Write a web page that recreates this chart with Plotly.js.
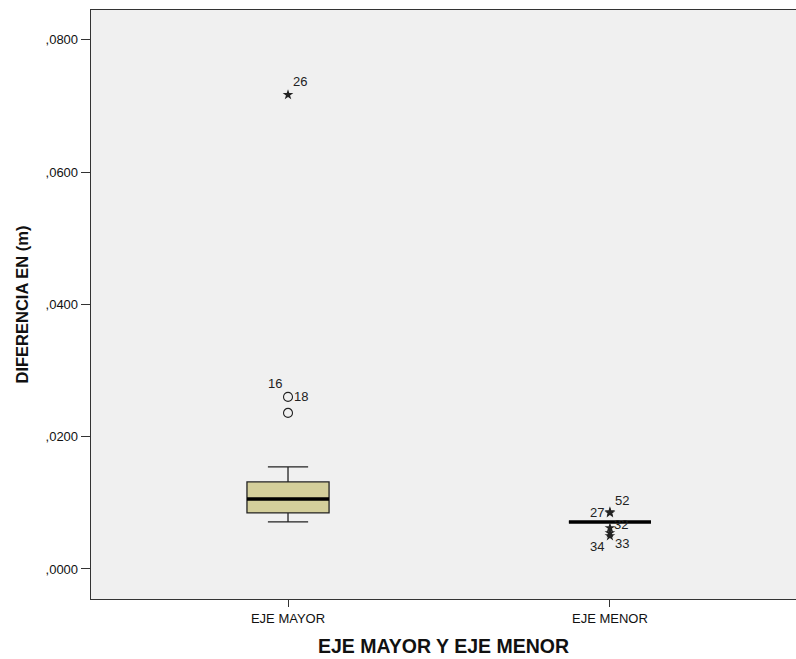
<!DOCTYPE html>
<html>
<head>
<meta charset="utf-8">
<script src="https://cdn.plot.ly/plotly-3.0.1.min.js"></script>
<style>html,body{margin:0;padding:0;background:#fff;}#chart{width:796px;height:659px;}</style>
</head>
<body>
<div id="chart"></div>
<script>
// Categories
const categories = ["EJE MAYOR", "EJE MENOR"];
// Box statistics per category
const q1Values = [0.00847, 0.00711];
const medianValues = [0.01059, 0.00711];
const q3Values = [0.01316, 0.00711];
const lowerWhisker = [0.00711, 0.00711];
const upperWhisker = [0.01543, 0.00711];
// Outliers (circles)
const outlierCat = ["EJE MAYOR", "EJE MAYOR"];
const outlierVal = [0.02601, 0.02359];
const outlierLab = ["18", "16"];
// Extremes (stars)
const extremeCat = ["EJE MAYOR", "EJE MENOR", "EJE MENOR", "EJE MENOR", "EJE MENOR", "EJE MENOR"];
const extremeVal = [0.07168, 0.00847, 0.00862, 0.00620, 0.00545, 0.00500];
const extremeLab = ["26", "27", "52", "32", "33", "34"];
// Y tick labels
const yTickVals = [0.0, 0.02, 0.04, 0.06, 0.08];
const yTickText = [",0000", ",0200", ",0400", ",0600", ",0800"];

const font = "Liberation Sans, Arial, sans-serif";

const boxTrace = {
  type: "box", x: categories, q1: q1Values, median: medianValues, q3: q3Values,
  lowerfence: lowerWhisker, upperfence: upperWhisker,
  width: 0.255, whiskerwidth: 0.49, boxpoints: false,
  fillcolor: "#d4cf9b", line: {color: "#222222", width: 1.3},
  hoverinfo: "skip", showlegend: false
};
const medianTrace = {
  type: "box", x: categories, q1: medianValues, median: medianValues, q3: medianValues,
  lowerfence: medianValues, upperfence: medianValues,
  width: 0.255, whiskerwidth: 0, boxpoints: false,
  fillcolor: "rgba(0,0,0,0)", line: {color: "#000000", width: 3.5},
  hoverinfo: "skip", showlegend: false
};
const outlierTrace = {
  type: "scatter", mode: "markers", x: outlierCat, y: outlierVal,
  marker: {symbol: "circle-open", size: 9, color: "#222222", line: {width: 1.1, color: "#222222"}},
  hoverinfo: "skip", showlegend: false
};
const extremeTrace = {
  type: "scatter", mode: "markers", x: extremeCat, y: extremeVal,
  marker: {symbol: "star", size: 8, color: "#222222", line: {width: 0}},
  hoverinfo: "skip", showlegend: false
};

const shifts = {
  "18": [13, 0], "16": [-13, 29], "26": [12, 13], "27": [-13, 0],
  "52": [12, 11], "32": [11, 3], "33": [12, -11], "34": [-13, -11]
};
const annotations = [];
function addLabels(cats, vals, labs) {
  for (let i = 0; i < cats.length; i++) {
    const s = shifts[labs[i]] || [12, 0];
    annotations.push({
      x: cats[i], y: vals[i], xref: "x", yref: "y", text: labs[i], showarrow: false,
      xshift: s[0], yshift: s[1], font: {family: font, size: 13, color: "#222222"}
    });
  }
}
addLabels(outlierCat, outlierVal, outlierLab);
addLabels(extremeCat, extremeVal, extremeLab);

const layout = {
  width: 796, height: 659,
  margin: {l: 91, r: 0, t: 10, b: 60},
  paper_bgcolor: "#ffffff", plot_bgcolor: "#f0f0f0",
  boxmode: "overlay",
  xaxis: {
    type: "category", range: [-0.612, 1.578],
    showgrid: false, zeroline: false, showline: true, mirror: true,
    linecolor: "#333333", linewidth: 1.3,
    ticks: "outside", ticklen: 7, tickcolor: "#333333",
    tickfont: {family: font, size: 13, color: "#111111"},
    title: {text: "<b>EJE MAYOR Y EJE MENOR</b>", font: {family: font, size: 19.5, color: "#111111"}, standoff: 14}
  },
  yaxis: {
    range: [-0.00454, 0.0845],
    tickvals: yTickVals, ticktext: yTickText,
    showgrid: false, zeroline: false, showline: true, mirror: true,
    linecolor: "#333333", linewidth: 1.3,
    ticks: "outside", ticklen: 9, tickcolor: "#333333",
    tickfont: {family: font, size: 13, color: "#111111"},
    title: {text: "<b>DIFERENCIA EN (m)</b>", font: {family: font, size: 16.5, color: "#111111"}, standoff: 12}
  },
  annotations: annotations
};

Plotly.newPlot("chart", [boxTrace, medianTrace, outlierTrace, extremeTrace], layout, {displayModeBar: false, staticPlot: true});
</script>
</body>
</html>
